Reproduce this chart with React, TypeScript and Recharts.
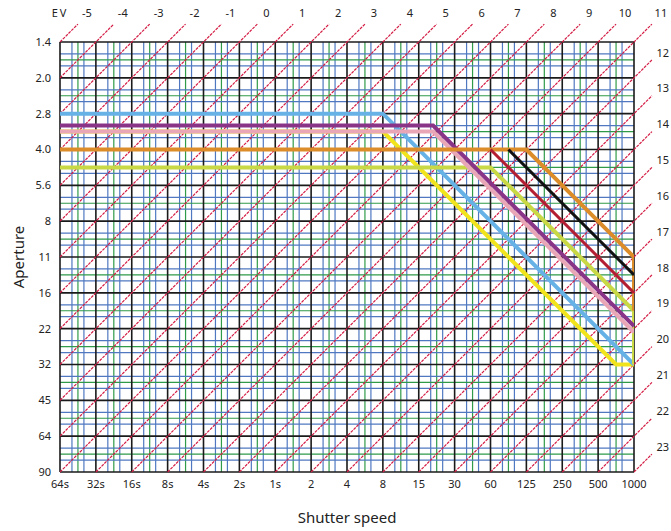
import { LineChart, Line, XAxis, YAxis, ReferenceLine, ReferenceDot } from "recharts";

const shutterLabels = ["64s", "32s", "16s", "8s", "4s", "2s", "1s", "2", "4", "8", "15", "30", "60", "125", "250", "500", "1000"];
const apertureLabels = ["1.4", "2.0", "2.8", "4.0", "5.6", "8", "11", "16", "22", "32", "45", "64", "90"];
const evValues = [-5, -4, -3, -2, -1, 0, 1, 2, 3, 4, 5, 6, 7, 8, 9, 10, 11, 12, 13, 14, 15, 16, 17, 18, 19, 20, 21, 22, 23];

// program lines: [shutter stop, aperture stop]
const progLightBlue = [[0, 2], [9, 2], [16, 9]];
const progYellow = [[0, 2.5], [9, 2.5], [15.5, 9], [16, 9]];
const progYellowGreen = [[0, 3.5], [12, 3.5], [16, 7.5], [16, 9]];
const progPink = [[0, 2.5], [10.4, 2.5], [16, 8.1]];
const progPurple = [[0, 2.33], [10.4, 2.33], [16, 7.93]];
const progOrange = [[0, 3], [13, 3], [16, 6], [16, 7.5]];
const progRed = [[12, 3], [16, 7]];
const progBlack = [[12.5, 3], [16, 6.5]];

const programs = [
  { pts: progYellow, color: "#f2e41c" },
  { pts: progLightBlue, color: "#66b2e6" },
  { pts: progYellowGreen, color: "#c9d845" },
  { pts: progPink, color: "#e8a6b6" },
  { pts: progPurple, color: "#8a3488" },
  { pts: progOrange, color: "#dc8c28" },
  { pts: progRed, color: "#b41e32" },
  { pts: progBlack, color: "#111111" },
];

const X_MAX = shutterLabels.length - 1;
const Y_MAX = apertureLabels.length - 1;
const font = "'Noto Sans', sans-serif";

const minorLines = (count: number) => {
  const out: { v: number; color: string }[] = [];
  for (let k = 0; k < count; k++) {
    out.push({ v: k + 1 / 3, color: "#4f78c0" });
    out.push({ v: k + 0.5, color: "#2f9a48" });
    out.push({ v: k + 2 / 3, color: "#4f78c0" });
  }
  return out;
};

function evSegment(ev: number) {
  const c = ev + 5;
  const hi = c <= X_MAX ? { x: c, y: 0 } : { x: X_MAX, y: c - X_MAX };
  const lo = c <= Y_MAX ? { x: 0, y: c } : { x: c - Y_MAX, y: Y_MAX };
  const end = { x: hi.x + 0.5, y: hi.y - 0.5 };
  const label = c <= X_MAX ? { x: hi.x + 0.75, y: -0.81 } : { x: X_MAX + 0.8, y: hi.y - 0.7 };
  return { lo, end, label };
}

export default function App() {
  return (
    <div style={{ position: "absolute", left: 0, top: 0 }}>
      <LineChart width={671} height={531} margin={{ top: 42, right: 37, bottom: 0, left: 0 }}>
        <XAxis
          type="number"
          dataKey="x"
          domain={[0, X_MAX]}
          allowDataOverflow
          ticks={shutterLabels.map((_, i) => i)}
          interval={0}
          tickFormatter={(v) => shutterLabels[v]}
          tickSize={0}
          tickMargin={8}
          axisLine={false}
          height={59}
          tick={{ fontSize: 11, fill: "#222", fontFamily: font }}
          label={{ value: "Shutter speed", position: "insideBottom", offset: 8, fontSize: 15, fill: "#222", fontFamily: font }}
        />
        <YAxis
          type="number"
          dataKey="y"
          reversed
          domain={[0, Y_MAX]}
          allowDataOverflow
          ticks={apertureLabels.map((_, i) => i)}
          interval={0}
          tickFormatter={(v) => apertureLabels[v]}
          tickSize={0}
          tickMargin={9}
          axisLine={false}
          width={60}
          tick={{ fontSize: 11, fill: "#222", fontFamily: font }}
          label={{
            content: (p: any) => {
              const vb = p.viewBox;
              const cy = vb.y + vb.height / 2;
              return (
                <text x={18} y={cy} transform={`rotate(-90 18 ${cy})`} textAnchor="middle" dominantBaseline="central" fontSize={15} fill="#222" fontFamily={font}>
                  Aperture
                </text>
              );
            },
          }}
        />
        {minorLines(X_MAX).map((m, i) => (
          <ReferenceLine key={`vm${i}`} x={m.v} stroke={m.color} strokeWidth={1.2} />
        ))}
        {minorLines(Y_MAX).map((m, i) => (
          <ReferenceLine key={`hm${i}`} y={m.v} stroke={m.color} strokeWidth={1.2} />
        ))}
        {shutterLabels.map((_, i) => (
          <ReferenceLine key={`vM${i}`} x={i} stroke="#1a1a1a" strokeWidth={1.6} />
        ))}
        {apertureLabels.map((_, i) => (
          <ReferenceLine key={`hM${i}`} y={i} stroke="#1a1a1a" strokeWidth={1.6} />
        ))}
        {evValues.map((ev) => {
          const s = evSegment(ev);
          return (
            <ReferenceLine
              key={`ev${ev}`}
              segment={[s.lo, s.end]}
              stroke="#d41c44"
              strokeWidth={1.2}
              strokeDasharray="3 1"
              ifOverflow="visible"
            />
          );
        })}
        {evValues.map((ev) => {
          const s = evSegment(ev);
          return (
            <ReferenceDot
              key={`evl${ev}`}
              x={s.label.x}
              y={s.label.y}
              r={0}
              stroke="none"
              fill="none"
              ifOverflow="visible"
              label={{ value: String(ev), position: "center", fontSize: 11, fill: "#222", fontFamily: font }}
            />
          );
        })}
        <ReferenceDot
          x={0}
          y={-0.81}
          r={0}
          stroke="none"
          fill="none"
          ifOverflow="visible"
          label={{ value: "EV", position: "center", fontSize: 11, fill: "#222", fontFamily: font, letterSpacing: 2 }}
        />
        {programs.map((p, i) => (
          <Line
            key={`p${i}`}
            data={p.pts.map(([x, y]) => ({ x, y }))}
            dataKey="y"
            type="linear"
            stroke={p.color}
            strokeWidth={i >= 6 ? 3 : 4}
            dot={false}
            activeDot={false}
            isAnimationActive={false}
          />
        ))}
      </LineChart>
    </div>
  );
}
